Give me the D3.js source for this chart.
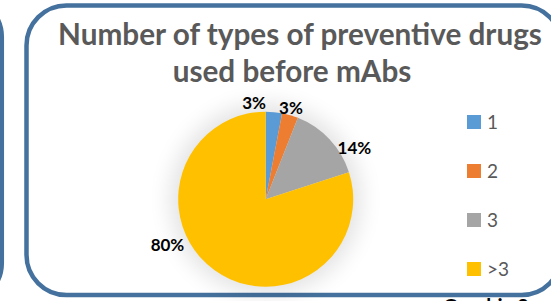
<!DOCTYPE html>
<html>
<head>
<meta charset="utf-8">
<script src="https://cdn.jsdelivr.net/npm/d3@7"></script>
<style>
  html, body { margin: 0; padding: 0; background: #ffffff; }
  svg { display: block; }
</style>
</head>
<body>
<svg id="chart" width="551" height="301"></svg>
<script>
// ---- data ----
const categories = ["1", "2", "3", ">3"];
const values = [3, 3, 14, 80];
const labelTexts = ["3%", "3%", "14%", "80%"];
const titleLines = ["Number of types of preventive drugs", "used before mAbs"];
const colors = ["#5b9bd5", "#ed7d31", "#a5a5a5", "#ffc000"];

// ---- layout ----
const W = 551, H = 301;
const cx = 265.7, cy = 199.2, R = 87.5;
// label placement: angle shift (deg) relative to slice mid-angle, and distance from centre
const labelShift = [-12.3, -0.7, 13, 29];
const labelDist = [97, 94.6, 102.7, 108.4];

const svg = d3.select("#chart");
const defs = svg.append("defs");
const f = defs.append("filter").attr("id", "soft").attr("x", "-50%").attr("y", "-50%").attr("width", "200%").attr("height", "200%");
f.append("feGaussianBlur").attr("stdDeviation", 11);

// left partial frame (neighbouring panel)
svg.append("rect")
  .attr("x", -300).attr("y", -3).attr("width", 301.8).attr("height", 306)
  .attr("rx", 40).attr("ry", 40)
  .attr("fill", "none").attr("stroke", "#44719d").attr("stroke-width", 4.5);

// clipped caption below (only its top shows, as in the reference)
svg.append("text")
  .attr("x", 443).attr("y", 314)
  .attr("font-family", "Lato, 'Open Sans', sans-serif")
  .attr("font-weight", "bold").attr("font-size", 20)
  .attr("fill", "#000").text("Graphic 3");

// main frame
svg.append("rect")
  .attr("x", 26.5).attr("y", 5.5).attr("width", 535).attr("height", 289.5)
  .attr("rx", 40).attr("ry", 40)
  .attr("fill", "#ffffff").attr("stroke", "#44719d").attr("stroke-width", 4.5);

// title
const titleCenters = [300, 292];
const titleY = [45, 82];
const titleSel = svg.append("g").selectAll("text").data(titleLines).enter().append("text")
  .attr("x", (d, i) => titleCenters[i]).attr("y", (d, i) => titleY[i])
  .attr("text-anchor", "middle")
  .attr("font-family", "Lato, 'Open Sans', sans-serif")
  .attr("font-weight", "bold").attr("font-size", 25)
  .attr("fill", "#595959").text(d => d);
// fit title width to reference (line 1 ~ 484px)
{
  const w = titleSel.nodes()[0].getComputedTextLength();
  titleSel.attr("font-size", 25 * 484 / w);
}

// pie
const pie = d3.pie().sort(null).value(d => d);
const arcs = pie(values);
const arc = d3.arc().innerRadius(0).outerRadius(R);
const g = svg.append("g").attr("transform", `translate(${cx},${cy})`);

g.append("circle").attr("r", R + 8).attr("fill", "#000").attr("opacity", 0.11).attr("filter", "url(#soft)");

g.selectAll("path.slice").data(arcs).enter().append("path")
  .attr("class", "slice")
  .attr("d", arc)
  .attr("fill", (d, i) => colors[i]);

// data labels
const mid = (d, i) => (d.startAngle + d.endAngle) / 2 + labelShift[i] * Math.PI / 180;
g.selectAll("text.lbl").data(arcs).enter().append("text")
  .attr("class", "lbl")
  .attr("x", (d, i) => Math.sin(mid(d, i)) * labelDist[i])
  .attr("y", (d, i) => -Math.cos(mid(d, i)) * labelDist[i])
  .attr("dy", "0.36em")
  .attr("text-anchor", "middle")
  .attr("font-family", "Lato, 'Open Sans', sans-serif")
  .attr("font-weight", "bold").attr("font-size", 17)
  .attr("fill", "#000")
  .text((d, i) => labelTexts[i]);

// legend
const legendY = d3.scalePoint().domain(categories).range([122, 269]);
const lg = svg.append("g");
categories.forEach((c, i) => {
  lg.append("rect")
    .attr("x", 467).attr("y", legendY(c) - 7)
    .attr("width", 14).attr("height", 14)
    .attr("fill", colors[i]);
  lg.append("text")
    .attr("x", 487).attr("y", legendY(c))
    .attr("dy", "0.36em")
    .attr("font-family", "Lato, 'Open Sans', sans-serif")
    .attr("font-size", 19)
    .attr("fill", "#595959")
    .text(c);
});
</script>
</body>
</html>
